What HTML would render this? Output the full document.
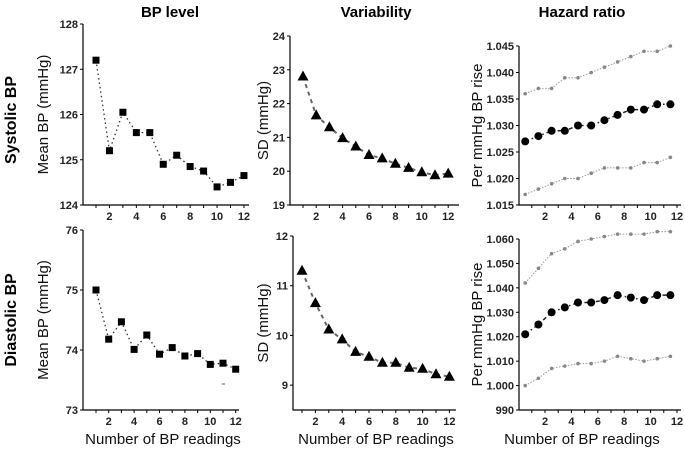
<!DOCTYPE html>
<html><head><meta charset="utf-8"><style>
html,body{margin:0;padding:0;background:#fff;}
svg{display:block;font-family:"Liberation Sans",Arial,sans-serif;}
</style></head><body>
<svg id="fig" width="685" height="449" viewBox="0 0 685 449" xmlns="http://www.w3.org/2000/svg">
<text x="170" y="17" font-size="15" font-weight="bold" text-anchor="middle">BP level</text>
<text x="376" y="17" font-size="15" font-weight="bold" text-anchor="middle">Variability</text>
<text x="582" y="17" font-size="15" font-weight="bold" text-anchor="middle">Hazard ratio</text>
<text transform="translate(16,120) rotate(-90)" font-size="16" font-weight="bold" text-anchor="middle">Systolic BP</text>
<text transform="translate(16,320) rotate(-90)" font-size="16" font-weight="bold" text-anchor="middle">Diastolic BP</text>
<line x1="222" y1="384" x2="225" y2="384" stroke="#555" stroke-width="1"/>
</svg>
<script>
const readings = [1,2,3,4,5,6,7,8,9,10,11,12];
const sbpMean = [127.2,125.2,126.05,125.6,125.6,124.9,125.1,124.85,124.75,124.4,124.5,124.65];
const dbpMean = [75.0,74.18,74.47,74.01,74.25,73.93,74.04,73.9,73.94,73.76,73.78,73.68];
const sbpSD = [22.8,21.65,21.3,20.98,20.73,20.48,20.38,20.22,20.1,19.97,19.88,19.93];
const dbpSD = [11.3,10.65,10.12,9.92,9.67,9.57,9.45,9.45,9.35,9.33,9.22,9.17];
const sbpHR = [1.027,1.028,1.029,1.029,1.030,1.030,1.031,1.032,1.033,1.033,1.034,1.034];
const sbpHRup = [1.036,1.037,1.037,1.039,1.039,1.040,1.041,1.042,1.043,1.044,1.044,1.045];
const sbpHRlo = [1.017,1.018,1.019,1.020,1.020,1.021,1.022,1.022,1.022,1.023,1.023,1.024];
const dbpHR = [1.021,1.025,1.030,1.032,1.034,1.034,1.035,1.037,1.036,1.035,1.037,1.037];
const dbpHRup = [1.042,1.048,1.054,1.056,1.059,1.060,1.061,1.062,1.062,1.062,1.063,1.063];
const dbpHRlo = [1.000,1.003,1.007,1.008,1.009,1.009,1.010,1.012,1.011,1.010,1.011,1.012];
const xTicks = [2,4,6,8,10,12];
const sbpMeanTicks = [124,125,126,127,128];
const dbpMeanTicks = [73,74,75,76];
const sbpSDTicks = [19,20,21,22,23,24];
const dbpSDTicks = [9,10,11,12];
const sbpHRTicks = [1.015,1.020,1.025,1.030,1.035,1.040,1.045];
const dbpHRTicks = [0.990,1.000,1.010,1.020,1.030,1.040,1.050,1.060];
const dbpHRTickLabels = ["990","1.000","1.010","1.020","1.030","1.040","1.050","1.060"];

const NS="http://www.w3.org/2000/svg";
const svg=document.getElementById('fig');
function mk(tag,attrs,parent){const e=document.createElementNS(NS,tag);for(const k in attrs)e.setAttribute(k,attrs[k]);(parent||svg).appendChild(e);return e;}

function panel(p){
  const g=mk('g',{});
  
  
  const X=v=>p.x0+(v-p.xv0)*p.xs;
  const Y=v=>p.yb-(v-p.ymin)*(p.yb-p.yt)/(p.ymax-p.ymin);
  const ax=mk('path',{d:`M${p.ax} ${p.yt}V${p.yb}H${p.xEnd}`,stroke:'#000','stroke-width':1.2,fill:'none'},g);
  
  
  p.yTicks.forEach((t,i)=>{
    mk('line',{x1:p.ax-3,x2:p.ax,y1:Y(t),y2:Y(t),stroke:'#000'},g);
    const tx=mk('text',{x:p.ax-5,y:Y(t)+4,'font-size':11,'text-anchor':'end','font-weight':'bold',fill:'#222'},g);
    tx.textContent=p.yLabels?p.yLabels[i]:String(t);
    
    
  });
  for(let v=1;v<=12;v++){mk('line',{x1:X(v),x2:X(v),y1:p.yb,y2:p.yb+3,stroke:'#000'},g);}
  xTicks.forEach(t=>{
    const tx=mk('text',{x:X(t),y:p.yb+15,'font-size':11,'text-anchor':'middle','font-weight':'bold',fill:'#222'},g);
    tx.textContent=String(t);
    
    
  });
  const yt=mk('text',{transform:`translate(${p.ytx},${(p.yt+p.yb)/2}) rotate(-90)`,'font-size':15,'text-anchor':'middle',fill:'#111'},g);
  yt.textContent=p.yTitle;
  
  
  if(p.xTitle){
    const xt=mk('text',{x:p.xtc,y:444,'font-size':15,'text-anchor':'middle',fill:'#111'},g);
    xt.textContent='Number of BP readings';
    
    
  }
  p.series.forEach(s=>{
    const xs=readings.map(r=>X(r+p.xoff));
    const pts=s.vals.map((v,i)=>xs[i]+','+Y(v)).join(' ');
    const l=mk('polyline',{points:pts,fill:'none',stroke:s.lc,'stroke-width':s.lw,'stroke-dasharray':s.dash},g);
    
    
    s.vals.forEach((v,i)=>{
      const cx=xs[i],cy=Y(v);let m;
      if(s.m==='sq')m=mk('rect',{x:cx-3.5,y:cy-3.5,width:7,height:7,fill:'#000'},g);
      else if(s.m==='tri')m=mk('polygon',{points:`${cx},${cy-6} ${cx-5.5},${cy+4} ${cx+5.5},${cy+4}`,fill:'#000'},g);
      else if(s.m==='dot')m=mk('circle',{cx:cx,cy:cy,r:4,fill:'#000'},g);
      else m=mk('circle',{cx:cx,cy:cy,r:1.8,fill:'#888'},g);
      
      
    });
  });
}
const sq=(n,v)=>({name:n,vals:v,m:'sq',lc:'#333',lw:1.3,dash:'1.5 3'});
const tri=(n,v)=>({name:n,vals:v,m:'tri',lc:'#666',lw:2,dash:'4 4'});
const dot=(n,v)=>({name:n,vals:v,m:'dot',lc:'#222',lw:1.5,dash:'4 3 1.5 3'});
const ci=(n,v)=>({name:n,vals:v,m:'ci',lc:'#999',lw:1,dash:'1.5 1.5'});

panel({name:'systolic-mean-panel',ax:83,xEnd:249,yt:24,yb:205,ymin:124,ymax:128,x0:96,xv0:1,xs:13.45,xoff:0,yTicks:sbpMeanTicks,yTitle:'Mean BP (mmHg)',ytx:48,series:[sq('systolic-mean',sbpMean)]});
panel({name:'diastolic-mean-panel',ax:83,xEnd:239,yt:230,yb:410,ymin:73,ymax:76,x0:96,xv0:1,xs:12.7,xoff:0,yTicks:dbpMeanTicks,yTitle:'Mean BP (mmHg)',ytx:48,xTitle:1,xtc:163,series:[sq('diastolic-mean',dbpMean)]});
panel({name:'systolic-sd-panel',ax:290,xEnd:459,yt:36,yb:205,ymin:19,ymax:24,x0:303,xv0:1,xs:13.2,xoff:0,yTicks:sbpSDTicks,yTitle:'SD (mmHg)',ytx:268,series:[tri('systolic-sd',sbpSD)]});
panel({name:'diastolic-sd-panel',ax:293,xEnd:456,yt:236,yb:410,ymin:8.5,ymax:12,x0:302,xv0:1,xs:13.4,xoff:0,yTicks:dbpSDTicks,yTitle:'SD (mmHg)',ytx:268,xTitle:1,xtc:376,series:[tri('diastolic-sd',dbpSD)]});
panel({name:'systolic-hr-panel',ax:519,xEnd:681,yt:46,yb:205,ymin:1.015,ymax:1.045,x0:545,xv0:2,xs:13.2,xoff:-0.5,yTicks:sbpHRTicks,yLabels:sbpHRTicks.map(t=>t.toFixed(3)),yTitle:'Per mmHg BP rise',ytx:482,series:[ci('systolic-hr-upper',sbpHRup),ci('systolic-hr-lower',sbpHRlo),dot('systolic-hr',sbpHR)]});
panel({name:'diastolic-hr-panel',ax:519,xEnd:681,yt:239,yb:410,ymin:0.990,ymax:1.060,x0:545,xv0:2,xs:13.2,xoff:-0.5,yTicks:dbpHRTicks,yLabels:dbpHRTickLabels,yTitle:'Per mmHg BP rise',ytx:482,xTitle:1,xtc:582,series:[ci('diastolic-hr-upper',dbpHRup),ci('diastolic-hr-lower',dbpHRlo),dot('diastolic-hr',dbpHR)]});
</script>
</body></html>
